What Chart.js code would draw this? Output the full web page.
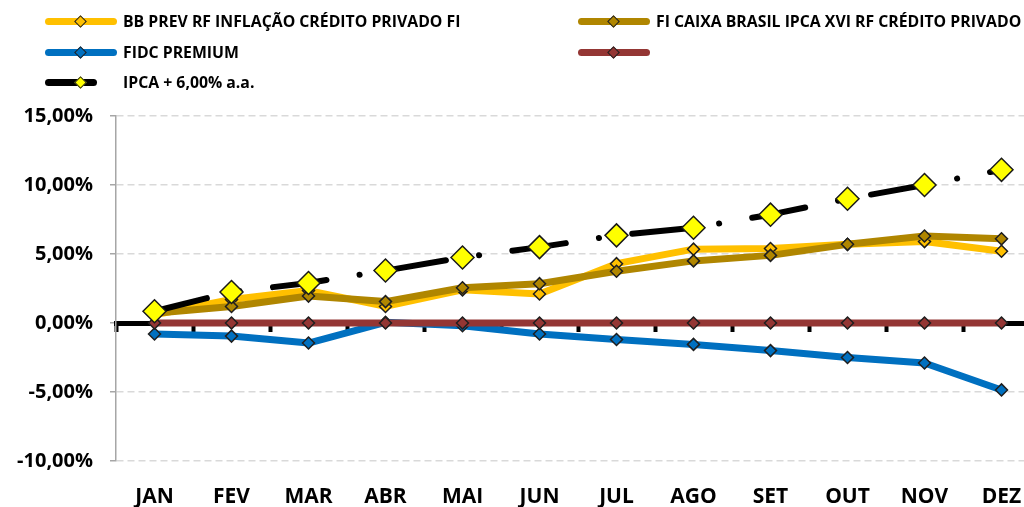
<!DOCTYPE html>
<html>
<head>
<meta charset="utf-8">
<script src="https://cdn.jsdelivr.net/npm/chart.js@4/dist/chart.umd.min.js"></script>
<style>
  html, body { margin: 0; padding: 0; background: #fff; overflow: hidden; }
  #wrap { position: relative; width: 1040px; height: 507px; overflow: hidden; }
  #chart { position: absolute; left: 0; top: 0; }
  .leg { position: absolute; height: 20px; font: bold 15.8px "Open Sans", sans-serif; color: #000; white-space: nowrap; }
  .leg .ln { position: absolute; top: 6px; height: 7px; border-radius: 4px; }
  .leg .mk { position: absolute; top: 5px; width: 7px; height: 7px; transform: rotate(45deg); border: 1.5px solid #1f1f1f; }
  .leg .tx { position: absolute; top: -2px; }
</style>
</head>
<body>
<div id="wrap">
  <canvas id="chart" width="1040" height="507"></canvas>
  <div id="legend"></div>
</div>
<script>
// meses
var meses = ['JAN', 'FEV', 'MAR', 'ABR', 'MAI', 'JUN', 'JUL', 'AGO', 'SET', 'OUT', 'NOV', 'DEZ'];

// rentabilidade acumulada (%)
var bbPrev = [0.6, 1.7, 2.35, 1.2, 2.4, 2.1, 4.3, 5.35, 5.4, 5.7, 5.9, 5.2];
var caixaIpca = [0.7, 1.2, 1.95, 1.55, 2.55, 2.85, 3.75, 4.5, 4.9, 5.7, 6.3, 6.1];
var fidcPremium = [-0.8, -0.95, -1.45, 0.05, -0.2, -0.8, -1.2, -1.55, -2.0, -2.5, -2.9, -4.85];
var semNome = [0, 0, 0, 0, 0, 0, 0, 0, 0, 0, 0, 0];
var ipca6 = [0.85, 2.25, 2.9, 3.8, 4.75, 5.5, 6.35, 6.9, 7.85, 9.0, 10.0, 11.1];

var yTicks = [-10, -5, 0, 5, 10, 15];

function serie(label, data, color, order) {
    return {
        label: label,
        data: data,
        borderColor: color,
        backgroundColor: color,
        borderWidth: 7,
        borderCapStyle: 'round',
        borderJoinStyle: 'round',
        tension: 0,
        pointStyle: 'rectRot',
        pointRadius: 6,
        pointBorderWidth: 1.5,
        pointBorderColor: '#1f1f1f',
        pointBackgroundColor: color,
        xAxisID: 'x',
        order: order
    };
}

var ds = [
    serie('BB PREV RF INFLAÇÃO CRÉDITO PRIVADO FI', bbPrev, '#FFC000', 4),
    serie('FI CAIXA BRASIL IPCA XVI RF CRÉDITO PRIVADO', caixaIpca, '#B08600', 3),
    serie('FIDC PREMIUM', fidcPremium, '#0070C0', 2),
    serie('', semNome, '#943634', 1),
    serie('IPCA + 6,00% a.a.', ipca6, '#000000', 0)
];
var ipcaDs = ds[4];
ipcaDs.borderWidth = 6;
ipcaDs.borderDash = [54, 33.5, 0.1, 33.5];
ipcaDs.pointRadius = 11.5;
ipcaDs.pointBackgroundColor = '#FFFF00';
ipcaDs.pointBorderColor = '#1a1a1a';

var fonte = 'Open Sans';

function semPadding(s) {
    s.paddingLeft = 0;
    s.paddingRight = 0;
}

var chart = new Chart(document.getElementById('chart'), {
    type: 'line',
    data: { labels: meses, datasets: ds },
    options: {
        responsive: false,
        animation: false,
        devicePixelRatio: 1,
        layout: { autoPadding: false, padding: { top: 116, left: 0, right: 0, bottom: 0 } },
        plugins: { legend: { display: false }, tooltip: { enabled: false } },
        scales: {
            x: {
                type: 'category',
                position: 'bottom',
                offset: true,
                grid: { display: false, drawTicks: false },
                border: { display: false },
                ticks: { color: '#000', padding: 23, font: { family: fonte, weight: 'bold', size: 21 } },
                afterFit: function (s) { s.height = 46; semPadding(s); }
            },
            x0: {
                type: 'category',
                position: { y: 0 },
                offset: true,
                grid: { offset: true, drawOnChartArea: false, tickLength: 6, tickWidth: 4, tickColor: '#000' },
                border: { color: '#000', width: 5 },
                ticks: { display: false },
                afterFit: function (s) { s.height = 0; semPadding(s); }
            },
            y: {
                min: -10,
                max: 15,
                afterBuildTicks: function (s) { s.ticks = yTicks.map(function (v) { return { value: v }; }); },
                grid: { color: '#d9d9d9', lineWidth: 1.5, tickColor: '#a6a6a6', tickLength: 6, tickBorderDash: [] },
                border: { color: '#a6a6a6', width: 1.5, dash: [7, 4] },
                ticks: {
                    color: '#000',
                    padding: 17,
                    font: { family: fonte, weight: 'bold', size: 20 },
                    callback: function (v) { return v.toFixed(2).replace('.', ',') + '%'; }
                },
                afterFit: function (s) { s.width = 116; }
            }
        }
    }
});

// legenda em duas colunas, montada a partir dos datasets
var legPos = [[45, 12], [578, 12], [45, 43], [578, 43], [45, 73]];
var legEl = document.getElementById('legend');
chart.data.datasets.forEach(function (d, i) {
    var p = legPos[i];
    var isIpca = d === ipcaDs;
    var w = isIpca ? 52 : 72;
    var item = document.createElement('div');
    item.className = 'leg';
    item.style.left = p[0] + 'px';
    item.style.top = p[1] + 'px';
    var ln = document.createElement('div');
    ln.className = 'ln';
    ln.style.left = '0px';
    ln.style.width = w + 'px';
    ln.style.background = d.borderColor;
    var mk = document.createElement('div');
    mk.className = 'mk';
    mk.style.left = (36 - 5) + 'px';
    mk.style.background = d.pointBackgroundColor;
    var tx = document.createElement('div');
    tx.className = 'tx';
    tx.style.left = '78px';
    tx.textContent = d.label;
    item.appendChild(ln);
    item.appendChild(mk);
    item.appendChild(tx);
    legEl.appendChild(item);
});
</script>
</body>
</html>
